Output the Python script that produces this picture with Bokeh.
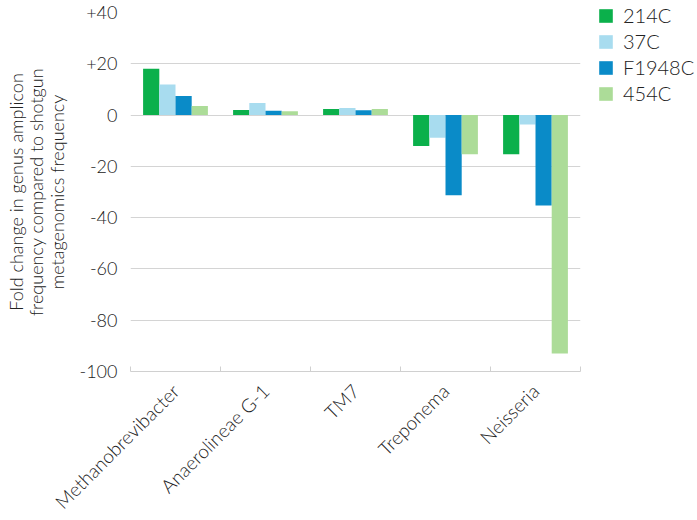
import math
from bokeh.plotting import figure
from bokeh.models import ColumnDataSource, FixedTicker, Legend, LegendItem, Range1d
from bokeh.embed import file_html
from bokeh.resources import INLINE

categories = ["Methanobrevibacter", "Anaerolineae G-1", "TM7", "Treponema", "Neisseria"]
series_names = ["214C", "37C", "F1948C", "454C"]
v_214C = [18.1, 2.0, 2.4, -12.1, -15.3]
v_37C = [11.9, 4.7, 2.8, -8.8, -3.7]
v_F1948C = [7.4, 1.7, 1.9, -31.3, -35.3]
v_454C = [3.5, 1.5, 2.4, -15.3, -93.0]
colors = ["#0bb04b", "#a8dcef", "#0a8bc8", "#acdc98"]
y_ticks = [-100, -80, -60, -40, -20, 0, 20, 40]
y_tick_labels = ["-100", "-80", "-60", "-40", "-20", "0", "+20", "+40"]

FONT = "Lato Light, Roboto Light, Liberation Sans"
TXT = "#222222"

p = figure(frame_width=450, frame_height=359, output_backend="svg", toolbar_location=None,
           x_range=Range1d(0, len(categories)), y_range=Range1d(-100, 40),
           min_border_left=130, min_border_right=117, min_border_top=12, min_border_bottom=10)
p.outline_line_color = None

series_values = [v_214C, v_37C, v_F1948C, v_454C]
bar_w = 0.18
offsets = [-1.5 * bar_w, -0.5 * bar_w, 0.5 * bar_w, 1.5 * bar_w]
items = []
for name, vals, col, off in zip(series_names, series_values, colors, offsets):
    src = ColumnDataSource(dict(x=[i + 0.5 + off for i in range(len(categories))], top=vals))
    r = p.vbar(x="x", top="top", bottom=0, width=bar_w, source=src,
               fill_color=col, line_color=None)
    items.append(LegendItem(label=name, renderers=[r]))

# y axis
p.yaxis.ticker = FixedTicker(ticks=y_ticks)
p.yaxis.major_label_overrides = {t: l for t, l in zip(y_ticks, y_tick_labels)}
p.yaxis.axis_line_color = None
p.yaxis.major_tick_line_color = None
p.yaxis.minor_tick_line_color = None
p.yaxis.major_label_text_font = FONT
p.yaxis.major_label_text_font_size = "18px"
p.yaxis.major_label_text_color = TXT
p.yaxis.major_label_standoff = 7
p.yaxis.axis_label = "Fold change in genus amplicon\nfrequency compared to shotgun\nmetagenomics frequency"
p.yaxis.axis_label_text_font = FONT
p.yaxis.axis_label_text_font_size = "18px"
p.yaxis.axis_label_text_font_style = "normal"
p.yaxis.axis_label_text_color = TXT
p.yaxis.axis_label_text_line_height = 0.92
p.yaxis.axis_label_standoff = 9

# x axis
centers = [i + 0.5 for i in range(len(categories))]
p.xaxis.ticker = FixedTicker(ticks=centers, minor_ticks=list(range(len(categories) + 1)))
p.xaxis.major_label_overrides = {c: n for c, n in zip(centers, categories)}
p.xaxis.major_label_orientation = math.pi / 4
p.xaxis.major_tick_line_color = None
p.xaxis.minor_tick_line_color = "#d0d0d0"
p.xaxis.minor_tick_in = 5
p.xaxis.minor_tick_out = 0
p.xaxis.axis_line_color = "#d0d0d0"
p.xaxis.major_label_text_font = FONT
p.xaxis.major_label_text_font_size = "19px"
p.xaxis.major_label_text_color = TXT
p.xaxis.major_label_standoff = 10

p.xgrid.grid_line_color = None
p.ygrid.ticker = FixedTicker(ticks=[t for t in y_ticks if t > -100])
p.ygrid.grid_line_color = "#d4d4d4"
p.ygrid.grid_line_width = 1

legend = Legend(items=items, location="top_left", orientation="vertical",
                glyph_width=17, glyph_height=17, label_height=24, spacing=2,
                label_standoff=9, padding=0, margin=0,
                border_line_color=None, background_fill_alpha=0,
                label_text_font=FONT, label_text_font_size="20px", label_text_color=TXT)
legend.location = (17, 266)
p.add_layout(legend, "right")

open("out.html", "w").write(file_html(p, INLINE))
